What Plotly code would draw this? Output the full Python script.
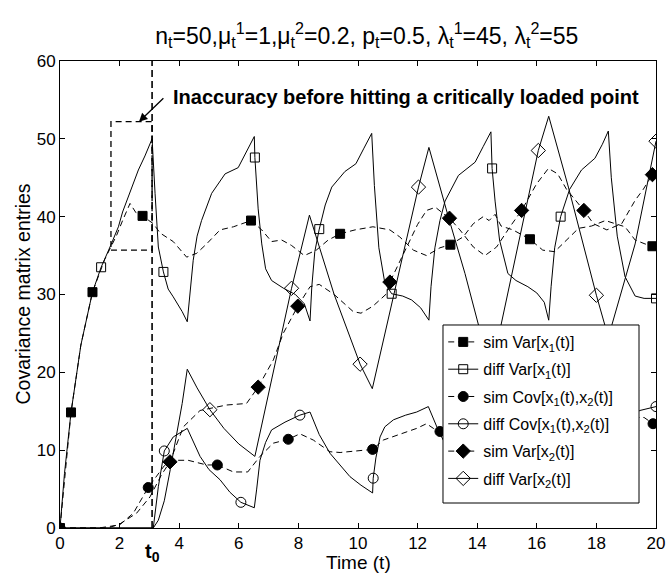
import plotly.graph_objects as go

# ---------------- data ----------------
# sim Var[x1(t)]  (dashed, filled squares)
t_sim_v1 = [0, 0.37, 0.7, 1.09, 1.5, 1.9, 2.1, 2.35, 2.55, 2.77, 3.13, 3.36, 3.8, 4.25, 4.59, 4.92,
            5.37, 5.82, 6.41, 6.77, 7.1, 7.44, 7.77, 8.2, 8.6, 9.0, 9.4, 9.9, 10.5, 11.07, 11.4,
            11.86, 12.3, 12.75, 13.1, 13.53, 13.87, 14.2, 14.4, 14.6, 14.8, 15.2, 15.77, 16.2,
            16.6, 17.0, 17.4, 17.84, 18.3, 18.96, 19.3, 19.63, 19.9, 20]
v_sim_v1 = [0, 14.85, 23.5, 30.3, 34.5, 37.6, 39.5, 41.7, 40.5, 40.1, 39.1, 37.9, 36.8, 34.8, 35.3, 36.5,
            38.3, 38.7, 39.5, 38.3, 36.8, 37.0, 36.3, 35.0, 35.7, 37.0, 37.8, 38.3, 38.7, 38.3, 37.4,
            35.7, 35.0, 36.0, 36.4, 37.4, 39.1, 40.0, 39.5, 40.3, 38.8, 38.3, 37.1, 35.7,
            35.5, 37.0, 38.5, 38.8, 39.5, 38.7, 37.0, 36.5, 36.2, 36.2]
mt_sim_v1 = [0, 0.37, 1.09, 2.77, 6.41, 9.4, 13.1, 15.77, 19.88]
mv_sim_v1 = [0, 14.85, 30.3, 40.1, 39.5, 37.8, 36.4, 37.1, 36.2]

# diff Var[x1(t)]  (solid, open squares)
t_dif_v1 = [0, 0.15, 0.37, 0.7, 1.09, 1.38, 1.7, 1.96, 2.1, 2.24, 2.45, 2.63, 2.85, 3.09,
            3.19, 3.3, 3.47, 3.63, 3.8, 3.95, 4.1, 4.27,
            4.35, 4.47, 4.6, 4.75, 5.09, 5.54, 5.98, 6.25, 6.52,
            6.54, 6.65, 6.77, 6.9, 7.1, 7.5, 7.9, 8.2, 8.39,
            8.45, 8.55, 8.7, 8.9, 9.12, 9.56, 9.93, 10.2, 10.46,
            10.55, 10.7, 10.9, 11.13, 11.5, 11.8, 12.1, 12.38,
            12.45, 12.58, 12.75, 12.92, 13.37, 13.93, 14.2, 14.46,
            14.5, 14.6, 14.75, 15.03, 15.3, 15.7, 16.0, 16.25, 16.4,
            16.48, 16.6, 16.8, 17.1, 17.5, 17.95, 18.2, 18.4,
            18.5, 18.7, 18.96, 19.3, 19.6, 20]
v_dif_v1 = [0, 7, 14.85, 23.5, 30.3, 33.5, 36.3, 38.7, 40.6, 42.1, 44.3, 46.0, 47.8, 50.0,
            43.0, 36.1, 32.9, 30.7, 29.7, 28.8, 27.8, 26.5,
            30.0, 34.4, 37.5, 39.5, 43.0, 45.5, 46.3, 48.2, 50.3,
            47.6, 41.0, 36.5, 33.3, 31.8, 30.8, 30.0, 28.8, 26.6,
            31.0, 35.5, 38.4, 41.5, 43.8, 45.8, 46.8, 48.8, 50.7,
            44.0, 36.0, 31.5, 30.1, 29.8, 29.3, 28.3, 26.7,
            31.0, 36.0, 39.5, 42.0, 45.3, 47.0, 49.0, 50.9,
            46.2, 42.0, 37.0, 32.7, 31.8, 31.0, 30.2, 29.0, 26.7,
            31.0, 36.0, 40.0, 43.5, 46.0, 47.5, 49.3, 51.0,
            45.0, 37.5, 32.3, 29.8, 29.5, 29.5]
mt_dif_v1 = [1.38, 3.47, 6.54, 8.7, 11.13, 14.5, 16.8, 20]
mv_dif_v1 = [33.5, 32.9, 47.6, 38.4, 30.1, 46.2, 40.0, 29.5]

# sim Cov[x1(t),x2(t)]  (dashed, filled circles)
t_sim_cv = [0, 1.3, 2.0, 2.46, 2.96, 3.24, 3.5, 3.8, 4.3, 4.92, 5.28, 5.82, 6.3, 6.71, 7.16, 7.66,
            8.05, 8.5, 9.06, 9.4, 10.07, 10.49, 10.85, 11.3, 11.97, 12.3, 12.53, 12.75, 13.3, 14.0,
            14.5, 15.0, 15.8, 16.4, 17.0, 17.6, 18.4, 18.9, 19.3, 19.6, 19.9, 20]
v_sim_cv = [0, 0, 0.4, 1.9, 5.2, 6.6, 8.0, 8.7, 8.7, 8.1, 8.1, 7.2, 7.2, 9.2, 10.9, 11.4,
            12.1, 11.3, 9.8, 9.7, 9.9, 10.1, 11.3, 11.9, 12.8, 13.4, 12.8, 12.4, 11.0, 10.5,
            11.2, 12.5, 13.5, 14.0, 12.5, 11.2, 11.3, 12.5, 14.2, 14.2, 13.4, 13.4]
mt_sim_cv = [0, 2.96, 5.28, 7.66, 10.49, 12.75, 19.9]
mv_sim_cv = [0, 5.2, 8.1, 11.4, 10.1, 12.4, 13.4]

# diff Cov[x1(t),x2(t)]  (solid, open circles)
t_dif_cv = [0, 3.13, 3.3, 3.5, 3.8, 4.0, 4.27, 4.7, 5.0, 5.37, 5.7, 6.07, 6.52,
            6.6, 6.71, 6.9, 7.1, 7.55, 8.05, 8.39, 8.7, 9.06, 9.4, 9.73, 10.1, 10.49,
            10.51, 10.6, 10.74, 10.9, 11.19, 11.6, 11.97, 12.36, 12.7, 13.1, 13.6, 14.0, 14.46,
            14.6, 14.8, 15.2, 15.8, 16.4, 16.8, 17.3, 17.9, 18.4,
            18.55, 18.8, 19.2, 19.46, 20]
v_dif_cv = [0, 0, 5.3, 9.9, 11.7, 12.2, 12.8, 9.2, 7.5, 6.2, 4.6, 3.3, 2.6,
            5.0, 8.7, 11.0, 12.6, 13.6, 14.5, 14.9, 12.0, 9.6, 8.0, 6.6, 5.5, 4.5,
            6.4, 9.0, 11.7, 13.0, 13.9, 14.5, 14.9, 15.6, 12.5, 9.5, 7.0, 5.6, 4.6,
            9.0, 12.5, 14.0, 15.0, 15.6, 12.0, 8.8, 6.0, 4.6,
            9.0, 12.5, 14.5, 15.1, 15.6]
mt_dif_cv = [3.5, 6.07, 8.05, 10.51, 20]
mv_dif_cv = [9.9, 3.3, 14.5, 6.4, 15.6]

# sim Var[x2(t)]  (dashed, filled diamonds)
t_sim_v2 = [0, 1.6, 2.0, 2.57, 3.02, 3.4, 3.69, 4.14, 4.7, 5.2, 5.59, 6.26, 6.65, 7.16, 7.49, 7.98,
            8.39, 8.7, 9.2, 9.84, 10.1, 10.5, 10.96, 11.07, 11.5, 12.0, 12.3, 12.6, 12.86, 13.07,
            13.42, 13.87, 14.26, 14.65, 15.1, 15.49, 15.99, 16.39, 16.7, 17.0, 17.58, 17.9,
            18.35, 18.85, 19.3, 19.57, 19.88, 20]
v_sim_v2 = [0, 0, 0.5, 1.9, 4.0, 6.8, 8.5, 13.0, 15.1, 15.5, 15.8, 16.0, 18.1, 21.6, 25.0, 28.5,
            31.0, 31.3, 30.0, 27.8, 27.6, 28.5, 30.1, 31.6, 35.0, 39.0, 40.8, 41.2, 40.4, 39.8,
            38.3, 36.1, 35.0, 36.1, 38.7, 40.8, 44.2, 46.2, 45.5, 43.5, 40.8, 39.1,
            38.3, 39.1, 42.1, 43.5, 45.4, 45.8]
mt_sim_v2 = [3.69, 6.65, 7.98, 11.07, 13.07, 15.49, 17.58, 19.88]
mv_sim_v2 = [8.5, 18.1, 28.5, 31.6, 39.8, 40.8, 40.8, 45.4]

# diff Var[x2(t)]  (solid, open diamonds)
t_dif_v2 = [0, 3.13, 3.3, 3.5, 3.7, 3.9, 4.1, 4.27, 4.6, 5.03, 5.5, 6.0, 6.54, 7.77, 8.37,
            9.2, 10.07, 10.48, 12.03, 12.38, 13.03, 13.59, 14.04, 14.46, 16.05, 16.4, 17.06,
            18.0, 18.4, 19.3, 20]
v_dif_v2 = [0, 0, 1.0, 3.5, 7.5, 11.5, 16.0, 20.4, 18.0, 15.2, 12.8, 10.8, 9.2, 30.8, 40.2,
            30.0, 21.05, 17.9, 43.8, 48.9, 40.0, 32.7, 26.0, 20.0, 48.5, 52.9, 43.8,
            29.9, 24.5, 36.5, 49.7]
mt_dif_v2 = [5.03, 7.77, 10.07, 12.03, 16.05, 18.0, 20]
mv_dif_v2 = [15.2, 30.8, 21.05, 43.8, 48.5, 29.9, 49.7]

x_ticks = [0, 2, 4, 6, 8, 10, 12, 14, 16, 18, 20]
y_ticks = [0, 10, 20, 30, 40, 50, 60]

# annotation geometry (data units)
T0 = 3.09
BOX = dict(x0=1.71, x1=3.09, y0=35.7, y1=52.2)
ARROW_HEAD = (2.65, 52.2)
ARROW_TAIL = (3.52, 55.4)
NOTE_POS = (3.72, 55.4)
# legend frame (paper fractions of the plot area)
LEG_FRAME = dict(x0=0.6426, x1=0.9715, y0=0.0535, y1=0.4347)

FONT = "Liberation Sans, Arial, Helvetica, sans-serif"
DASH = "6px,4px"

series = [
    ("sim Var[x<sub>1</sub>(t)]", t_sim_v1, v_sim_v1, mt_sim_v1, mv_sim_v1, DASH, "square", 9),
    ("diff Var[x<sub>1</sub>(t)]", t_dif_v1, v_dif_v1, mt_dif_v1, mv_dif_v1, "solid", "square-open", 9),
    ("sim Cov[x<sub>1</sub>(t),x<sub>2</sub>(t)]", t_sim_cv, v_sim_cv, mt_sim_cv, mv_sim_cv, DASH, "circle", 10),
    ("diff Cov[x<sub>1</sub>(t),x<sub>2</sub>(t)]", t_dif_cv, v_dif_cv, mt_dif_cv, mv_dif_cv, "solid", "circle-open", 10),
    ("sim Var[x<sub>2</sub>(t)]", t_sim_v2, v_sim_v2, mt_sim_v2, mv_sim_v2, DASH, "diamond", 11),
    ("diff Var[x<sub>2</sub>(t)]", t_dif_v2, v_dif_v2, mt_dif_v2, mv_dif_v2, "solid", "diamond-open", 11),
]

fig = go.Figure()
for i, (name, t, v, mt, mv, dash, sym, ms) in enumerate(series):
    fig.add_trace(go.Scatter(x=t, y=v, mode="lines", showlegend=False, hoverinfo="skip",
                             line=dict(color="black", width=1, dash=dash)))
    fig.add_trace(go.Scatter(x=mt, y=mv, mode="markers", showlegend=False,
                             marker=dict(symbol=sym, size=ms, color="black",
                                         line=dict(color="black", width=1))))
for i, (name, t, v, mt, mv, dash, sym, ms) in enumerate(series):
    fig.add_trace(go.Scatter(x=[None], y=[None], mode="lines+markers", name=name,
                             legendgroup="g%d" % i,
                             line=dict(color="black", width=1, dash=dash),
                             marker=dict(symbol=sym, size=ms, color="black",
                                         line=dict(color="black", width=1))))

# vertical t0 line and dashed box
fig.add_shape(type="line", x0=T0, x1=T0, y0=0, y1=60, xref="x", yref="y",
              line=dict(color="black", width=1.6, dash="7px,4px"))
fig.add_shape(type="rect", xref="x", yref="y", line=dict(color="black", width=1.3, dash="6px,4px"),
              **BOX)
# white legend frame drawn above the curves (legend itself sits on top of it)
fig.add_shape(type="rect", xref="paper", yref="paper", layer="above", fillcolor="white",
              line=dict(color="black", width=1), **LEG_FRAME)

fig.add_annotation(x=ARROW_HEAD[0], y=ARROW_HEAD[1], ax=ARROW_TAIL[0], ay=ARROW_TAIL[1],
                   xref="x", yref="y", axref="x", ayref="y", text="", showarrow=True,
                   arrowhead=2, arrowsize=1.3, arrowwidth=1.3, arrowcolor="black")
fig.add_annotation(x=NOTE_POS[0], y=NOTE_POS[1], xref="x", yref="y", xanchor="left", yanchor="middle",
                   text="<b>Inaccuracy before hitting a critically loaded point</b>", showarrow=False,
                   font=dict(family=FONT, size=20, color="black"))
fig.add_annotation(x=T0, y=0, xref="x", yref="y", xanchor="center", yanchor="top", yshift=-10,
                   text="<b>t<sub>0</sub></b>", showarrow=False,
                   font=dict(family=FONT, size=20, color="black"))

# axis titles as annotations (precise placement)
fig.add_annotation(x=0.5, y=0, xref="paper", yref="paper", xanchor="center", yanchor="middle",
                   yshift=-34, text="Time (t)", showarrow=False,
                   font=dict(family=FONT, size=19, color="black"))
fig.add_annotation(x=0, y=0.5, xref="paper", yref="paper", xanchor="center", yanchor="middle",
                   xshift=-38, textangle=-90, text="Covariance matrix entries", showarrow=False,
                   font=dict(family=FONT, size=19.5, color="black"))

title = ("n<sub>t</sub>=50,μ<sub>t</sub><sup>1</sup>=1,μ<sub>t</sub><sup>2</sup>=0.2, p<sub>t</sub>=0.5, "
         "λ<sub>t</sub><sup>1</sup>=45, λ<sub>t</sub><sup>2</sup>=55")

fig.update_layout(
    width=667, height=574,
    margin=dict(l=60, r=11, t=61, b=46, autoexpand=False),
    paper_bgcolor="white", plot_bgcolor="white",
    font=dict(family=FONT, color="black", size=17),
    title=dict(text=title, x=0.55, xanchor="center", y=0.938, yanchor="middle",
               font=dict(family=FONT, size=23, color="black"), automargin=False),
    showlegend=True,
    legend=dict(x=0.643, y=0.4347, xanchor="left", yanchor="top",
                bgcolor="rgba(0,0,0,0)", borderwidth=0,
                font=dict(family=FONT, size=16, color="black"),
                tracegroupgap=3.5, itemwidth=30),
)
fig.update_xaxes(range=[0, 20], tickvals=x_ticks, ticks="inside", ticklen=5, tickcolor="black",
                 showline=True, linecolor="black", linewidth=1, mirror="ticks", showgrid=False,
                 zeroline=False, automargin=False, tickfont=dict(size=17))
fig.update_yaxes(range=[0, 60], tickvals=y_ticks, ticks="inside", ticklen=5, tickcolor="black",
                 showline=True, linecolor="black", linewidth=1, mirror="ticks", showgrid=False,
                 zeroline=False, automargin=False, tickfont=dict(size=17))

fig.write_html("out.html", config={"displayModeBar": False},
               post_script="document.body.style.margin='0';document.body.style.overflow='hidden';")
